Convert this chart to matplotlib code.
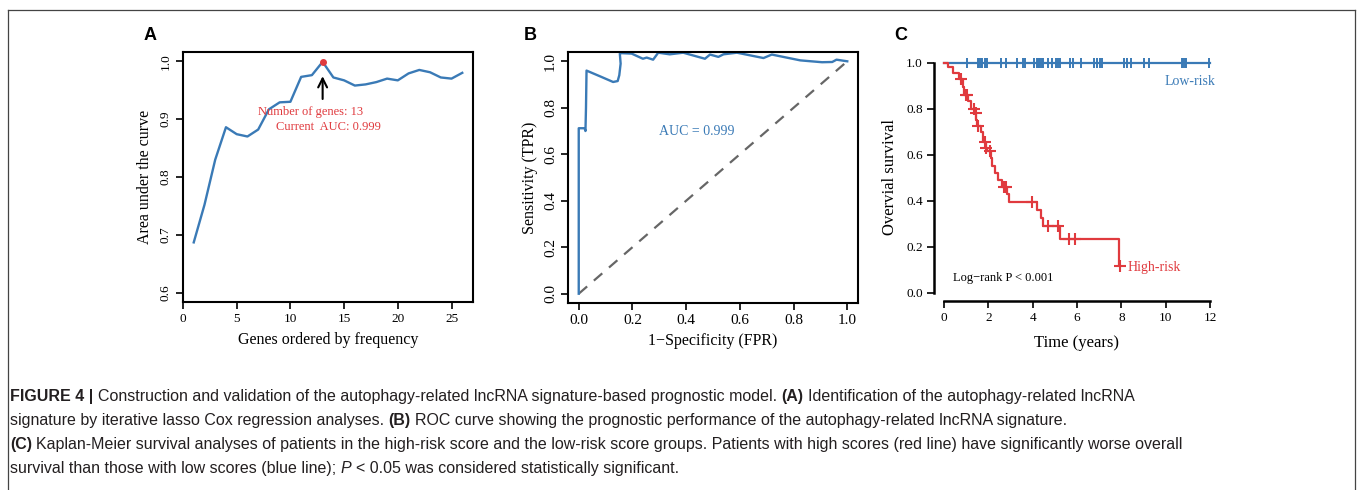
#!/usr/bin/env python
# -*- coding: utf-8 -*-
"""
Figure 4: lncRNA signature model - AUC by gene count, ROC curve, KM survival.
"""

import matplotlib
matplotlib.use("Agg")
import matplotlib.pyplot as plt
from matplotlib import font_manager
from matplotlib.lines import Line2D
import numpy as np

# ---- panel A: AUC vs number of genes ----
N_GENES = list(range(1, 27))
AUC_BY_GENES = [0.687, 0.752, 0.830, 0.886, 0.874, 0.870, 0.882, 0.917, 0.929, 0.930,
                0.973, 0.976, 0.999, 0.972, 0.967, 0.958, 0.960, 0.964, 0.970, 0.967,
                0.979, 0.985, 0.981, 0.972, 0.970, 0.980]
BEST_N = 13
BEST_AUC = 0.999

# ---- panel B: ROC curve (smoothed) ----
ROC_FPR = [0.0, 0.0, 0.022, 0.025, 0.027, 0.029, 0.08, 0.128, 0.145, 0.151, 0.156, 0.153,
           0.16, 0.197, 0.239, 0.253, 0.277, 0.296, 0.339, 0.389, 0.47, 0.489, 0.52,
           0.539, 0.589, 0.688, 0.719, 0.825, 0.906, 0.944, 0.96, 1.0]
ROC_TPR = [0.0, 0.712, 0.712, 0.70, 0.80, 0.96, 0.935, 0.911, 0.915, 0.94, 0.99, 1.033,
           1.035, 1.033, 1.011, 1.016, 1.007, 1.037, 1.030, 1.037, 1.011, 1.029, 1.019,
           1.030, 1.037, 1.014, 1.029, 1.004, 0.996, 0.997, 1.007, 1.0]
ROC_AUC = 0.999

# ---- panel C: Kaplan-Meier ----
HIGH_T = [0, 0.2, 0.42, 0.7, 0.86, 0.92, 1.1, 1.2, 1.38, 1.46, 1.49, 1.68, 1.74, 1.88,
          1.96, 2.1, 2.15, 2.3, 2.45, 2.6, 2.84, 2.94, 4.19, 4.37, 4.48, 5.24, 7.91, 7.95]
HIGH_S = [1.0, 0.98, 0.957, 0.93, 0.895, 0.86, 0.835, 0.80, 0.78, 0.75, 0.725, 0.70,
          0.655, 0.63, 0.617, 0.585, 0.55, 0.52, 0.49, 0.46, 0.43, 0.396, 0.36, 0.323,
          0.29, 0.232, 0.117, 0.117]
HIGH_CENSOR = [0.78, 0.98, 1.05, 1.34, 1.43, 1.52, 1.84, 1.91, 2.06, 2.70, 2.79, 3.99,
               4.70, 5.15, 5.65, 5.90, 7.95]
LOW_T = [0, 12]
LOW_S = [1.0, 1.0]
LOW_CENSOR = [1.05, 1.55, 1.6, 1.65, 1.7, 1.85, 1.9, 1.95, 2.55, 2.8, 3.3, 3.55, 3.65,
              4.05, 4.2, 4.25, 4.3, 4.35, 4.4, 4.45, 4.7, 4.85, 5.05, 5.15, 5.25, 5.7,
              5.8, 6.2, 6.75, 6.9, 7.05, 7.15, 8.1, 8.25, 8.45, 9.0, 9.25, 10.75, 10.8,
              10.85, 10.9, 11.95]

BLUE = "#3a7ab6"
RED = "#e03a3e"
W, H = 1357, 490


def pick_font(cands):
    for c in cands:
        try:
            font_manager.findfont(font_manager.FontProperties(family=c), fallback_to_default=False)
            return c
        except ValueError:
            pass
    return "DejaVu Sans"


SERIF = pick_font(["Liberation Serif", "DejaVu Serif"])
CAP_FONT = pick_font(["Liberation Sans Narrow", "DejaVu Sans Condensed", "Liberation Sans"])
plt.rcParams["font.family"] = SERIF


def px_axes(fig, left, top, right, bottom):
    return fig.add_axes([left / W, 1 - bottom / H, (right - left) / W, (bottom - top) / H])


def style_box(ax, tick_size):
    for s in ax.spines.values():
        s.set_linewidth(1.5)
    ax.tick_params(direction="out", length=5, width=1.2, labelsize=tick_size, pad=3)
    for lab in ax.get_yticklabels():
        lab.set_rotation(90)
        lab.set_va("center")


def km_value(times, surv, t):
    idx = np.searchsorted(times, t, side="right") - 1
    return np.asarray(surv)[idx]


def rich_line(fig, renderer, x0, y, pieces, size):
    probe1 = fig.text(0, 0, "x x", fontsize=size, family=CAP_FONT)
    probe2 = fig.text(0, 0, "xx", fontsize=size, family=CAP_FONT)
    space = (probe1.get_window_extent(renderer).width - probe2.get_window_extent(renderer).width) / W
    probe1.remove()
    probe2.remove()
    x = x0
    for txt, weight, style in pieces:
        t = fig.text(x, y, txt, fontsize=size, fontweight=weight, fontstyle=style,
                     family=CAP_FONT, color="#231f20", ha="left", va="baseline")
        x += t.get_window_extent(renderer).width / W + space


fig = plt.figure(figsize=(W / 100, H / 100), dpi=100)

# ---------------- A ----------------
axA = px_axes(fig, 183, 52, 473, 302)
axA.plot(N_GENES, AUC_BY_GENES, color=BLUE, lw=1.7)
axA.plot([BEST_N], [BEST_AUC], "o", color=RED, ms=4)
axA.annotate("", xy=(BEST_N, 0.979), xytext=(BEST_N, 0.930),
             arrowprops=dict(arrowstyle="->", color="black", lw=1.5, mutation_scale=16))
axA.text(11.9, 0.913, "Number of genes: 13", color=RED, fontsize=9, ha="center", va="center")
axA.text(13.5, 0.887, "Current  AUC: 0.999", color=RED, fontsize=9, ha="center", va="center")
axA.set_xlim(0, 27)
axA.set_ylim(0.584, 1.016)
axA.set_xticks([0, 5, 10, 15, 20, 25])
axA.set_yticks([0.6, 0.7, 0.8, 0.9, 1.0])
axA.set_xlabel("Genes ordered by frequency", fontsize=11.5, labelpad=5)
axA.set_ylabel("Area under the curve", fontsize=11.5, labelpad=5)
style_box(axA, 9.5)

# ---------------- B ----------------
axB = px_axes(fig, 568, 52, 858, 303)
axB.plot([0, 1], [0, 1], ls=(0, (5, 4)), color="#666666", lw=1.6)
axB.plot(ROC_FPR, ROC_TPR, color=BLUE, lw=1.7)
axB.text(0.44, 0.70, f"AUC = {ROC_AUC:.3f}", color=BLUE, fontsize=10, ha="center", va="center")
axB.set_xlim(-0.04, 1.04)
axB.set_ylim(-0.04, 1.04)
axB.set_xticks(np.arange(0, 1.01, 0.2))
axB.set_yticks(np.arange(0, 1.01, 0.2))
axB.xaxis.set_major_formatter(matplotlib.ticker.FormatStrFormatter("%.1f"))
axB.yaxis.set_major_formatter(matplotlib.ticker.FormatStrFormatter("%.1f"))
axB.set_xlabel("1\u2212Specificity (FPR)", fontsize=11.5, labelpad=4)
axB.set_ylabel("Sensitivity (TPR)", fontsize=11.5, labelpad=4)
style_box(axB, 11)

# ---------------- C ----------------
axC = px_axes(fig, 934, 53.5, 1220, 301)
axC.step(LOW_T, LOW_S, where="post", color=BLUE, lw=1.6)
axC.plot(LOW_CENSOR, km_value(LOW_T, LOW_S, LOW_CENSOR), ls="none", marker="|",
         color=BLUE, ms=7.5, mew=1.4)
axC.step(HIGH_T, HIGH_S, where="post", color=RED, lw=1.6)
axC.plot(HIGH_CENSOR, km_value(HIGH_T, HIGH_S, HIGH_CENSOR), ls="none", marker="+",
         color=RED, ms=8, mew=1.5)
axC.text(12.25, 0.92, "Low-risk", color=BLUE, fontsize=10, ha="right", va="center")
axC.text(8.3, 0.109, "High-risk", color=RED, fontsize=10, ha="left", va="center")
axC.text(0.4, 0.062, "Log\u2212rank P < 0.001", color="black", fontsize=9, ha="left", va="center")
axC.set_xlim(-0.45, 12.45)
axC.set_ylim(-0.036, 1.04)
axC.set_xticks(range(0, 13, 2))
axC.set_yticks(np.arange(0, 1.01, 0.2))
axC.yaxis.set_major_formatter(matplotlib.ticker.FormatStrFormatter("%.1f"))
axC.spines["top"].set_visible(False)
axC.spines["right"].set_visible(False)
axC.spines["left"].set_bounds(0, 1)
axC.spines["bottom"].set_bounds(0, 12)
for s in ("left", "bottom"):
    axC.spines[s].set_linewidth(1.8)
axC.tick_params(direction="out", length=5, width=1.2, labelsize=9.5, pad=3)
axC.set_xlabel("Time (years)", fontsize=12, labelpad=8)
axC.set_ylabel("Overvial survival", fontsize=12, labelpad=6)

# panel letters
for letter, xpx in [("A", 150), ("B", 530), ("C", 901)]:
    fig.text(xpx / W, 1 - 36 / H, letter, fontsize=13, fontweight="bold",
             family="Liberation Sans", ha="center", va="center")

# frame around the figure (open at the bottom)
frame = dict(color="#444444", lw=0.9, transform=fig.transFigure)
fig.add_artist(Line2D([8 / W, 1355 / W], [1 - 10 / H, 1 - 10 / H], **frame))
fig.add_artist(Line2D([8 / W, 8 / W], [1 - 10 / H, 0], **frame))
fig.add_artist(Line2D([1355 / W, 1355 / W], [1 - 10 / H, 0], **frame))

# caption
B_, N_, I_ = ("bold", "normal"), ("normal", "normal"), ("normal", "italic")
caption = [
    [("FIGURE 4 |",) + B_,
     ("Construction and validation of the autophagy-related lncRNA signature-based prognostic model.",) + N_,
     ("(A)",) + B_, ("Identification of the autophagy-related lncRNA",) + N_],
    [("signature by iterative lasso Cox regression analyses.",) + N_, ("(B)",) + B_,
     ("ROC curve showing the prognostic performance of the autophagy-related lncRNA signature.",) + N_],
    [("(C)",) + B_,
     ("Kaplan-Meier survival analyses of patients in the high-risk score and the low-risk score groups. "
      "Patients with high scores (red line) have significantly worse overall",) + N_],
    [("survival than those with low scores (blue line);",) + N_, ("P",) + I_,
     ("< 0.05 was considered statistically significant.",) + N_],
]
renderer = fig.canvas.get_renderer()
# size the caption so its longest line spans the same width as in the source
probe = fig.text(0, 0, "(C) " + caption[2][1][0], fontsize=10, family=CAP_FONT)
cap_size = 10 * 1180 / probe.get_window_extent(renderer).width
probe.remove()
for i, pieces in enumerate(caption):
    rich_line(fig, renderer, 10 / W, 1 - (401 + 24 * i) / H, pieces, cap_size)

fig.savefig("out.png", dpi=100)
print("caption font:", CAP_FONT, round(cap_size, 2))
